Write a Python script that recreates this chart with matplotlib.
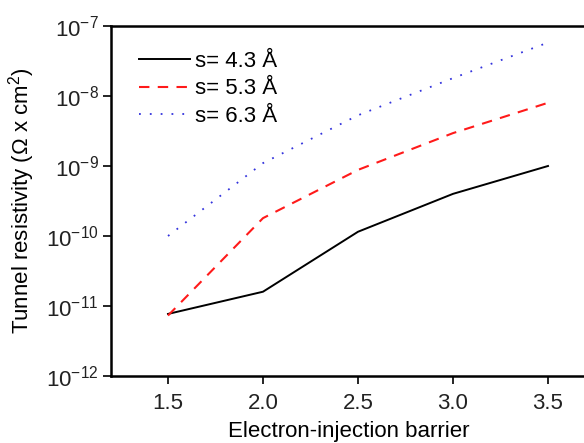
import matplotlib
matplotlib.use('Agg')
import matplotlib.pyplot as plt

plt.rcParams['font.family'] = ['Liberation Sans', 'DejaVu Sans']
plt.rcParams['mathtext.fontset'] = 'custom'
plt.rcParams['mathtext.rm'] = 'Liberation Sans'
plt.rcParams['mathtext.it'] = 'Liberation Sans'

barrier = [1.5, 2.0, 2.5, 3.0, 3.5]
rho_43 = [7.7e-12, 1.6e-11, 1.15e-10, 4.0e-10, 1.0e-9]
rho_53 = [7.3e-12, 1.8e-10, 8.8e-10, 2.95e-9, 8.0e-9]
rho_63 = [1.0e-10, 1.1e-9, 5.3e-9, 1.8e-8, 5.8e-8]
labels = ['s= 4.3 Å', 's= 5.3 Å', 's= 6.3 Å']
xticks = [1.5, 2.0, 2.5, 3.0, 3.5]

fig = plt.figure(figsize=(5.84, 4.43), dpi=100)
ax = fig.add_axes([111/584, 1 - 376/443, 475/584, 350/443])

ax.plot(barrier, rho_43, color='black', lw=1.4, ls='-', label=labels[0])
ax.plot(barrier, rho_53, color='#ff1a1a', lw=1.5, ls=(0, (5, 4)), label=labels[1])
ax.plot(barrier, rho_63, color='#3333dd', lw=1.3, ls=(0, (1, 5)), label=labels[2])

ax.set_yscale('log')
ax.set_ylim(1e-12, 1e-7)
ax.set_xlim(1.2, 3.7)
ax.set_xticks(xticks)
ax.set_xticklabels([f'{v:.1f}' for v in xticks])
ax.yaxis.set_minor_locator(matplotlib.ticker.NullLocator())

for s in ['left', 'bottom', 'top']:
    ax.spines[s].set_linewidth(1.8)
ax.spines['right'].set_visible(False)
ax.tick_params(direction='out', length=6, width=1.2, labelsize=16, colors='black',
               labelcolor='#222222')
ax.tick_params(axis='x', pad=6)
ax.tick_params(axis='y', pad=3)

ax.set_xlabel('Electron-injection barrier', fontsize=16, labelpad=5)
ax.set_ylabel('Tunnel resistivity ($\\Omega$ x cm$^2$)', fontsize=16, labelpad=6)

ax.legend(loc='upper left', frameon=False, fontsize=16, handlelength=2.3,
          handletextpad=0.2, labelspacing=0.3, borderaxespad=0,
          bbox_to_anchor=(0.041, 0.955))

fig.savefig('out.png', dpi=100)
